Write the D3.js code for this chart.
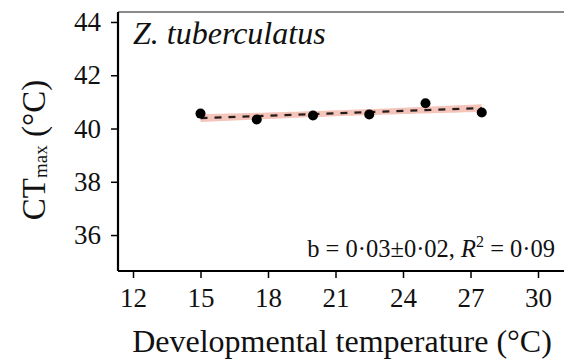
<!DOCTYPE html>
<html>
<head>
<meta charset="utf-8">
<script src="https://cdn.jsdelivr.net/npm/d3@7"></script>
<style>
  html, body { margin: 0; padding: 0; background: #fff; }
  svg { display: block; }
  svg text { font-family: "Liberation Serif", "DejaVu Serif", serif; }
</style>
</head>
<body>
<svg id="chart" width="564" height="361"></svg>
<script>
// Developmental temperature (°C) and mean CTmax (°C)
const temps = [15, 17.5, 20, 22.5, 25, 27.5];
const ctmax = [40.56, 40.34, 40.49, 40.53, 40.95, 40.60];
const ctmaxSE = [0.07, 0.07, 0.07, 0.06, 0.07, 0.07];
const xTicks = [12, 15, 18, 21, 24, 27, 30];
const yTicks = [36, 38, 40, 42, 44];
const slope = 0.03;      // b
const slopeSE = 0.02;
const r2 = 0.09;
const species = "Z. tuberculatus";

const SERIF = '"Liberation Serif", "DejaVu Serif", serif';
const svg = d3.select("#chart");
const plotLeft = 118, plotRight = 565, plotTop = 12, plotBottom = 271;

const x = d3.scaleLinear().domain([11.333, 31.2]).range([plotLeft, plotRight]);
const y = d3.scaleLinear().domain([34.65, 44.375]).range([plotBottom, plotTop]);

// Fitted line through the mean of the data with slope b, with a narrow confidence ribbon
const mx = d3.mean(temps), my = d3.mean(ctmax);
const fit = t => my + slope * (t - mx);
const xs = d3.range(15, 27.5001, 0.25);
const sxx = d3.sum(temps, t => (t - mx) ** 2);
const band = xs.map(t => {
  const half = 0.07 + 0.1 * Math.sqrt(1 / temps.length + (t - mx) ** 2 / sxx);
  return { t, lo: fit(t) - half, hi: fit(t) + half };
});

svg.append("path")
  .datum(band)
  .attr("fill", "#f5c4ba")
  .attr("d", d3.area().x(d => x(d.t)).y0(d => y(d.lo)).y1(d => y(d.hi)));

// Error bars and points
const g = svg.append("g");
g.selectAll("line.err").data(temps).join("line")
  .attr("class", "err")
  .attr("x1", d => x(d)).attr("x2", d => x(d))
  .attr("y1", (d, i) => y(ctmax[i] - ctmaxSE[i]))
  .attr("y2", (d, i) => y(ctmax[i] + ctmaxSE[i]))
  .attr("stroke", "#000").attr("stroke-width", 1.5);
g.selectAll("circle").data(temps).join("circle")
  .attr("cx", d => x(d))
  .attr("cy", (d, i) => y(ctmax[i]))
  .attr("r", 5)
  .attr("fill", "#000");

svg.append("path")
  .datum([15, 27.5])
  .attr("fill", "none")
  .attr("stroke", "#000")
  .attr("stroke-width", 2.4)
  .attr("stroke-dasharray", "7,7")
  .attr("opacity", 0.85)
  .attr("d", d3.line().x(d => x(d)).y(d => y(fit(d))));

// Frame
svg.append("line")
  .attr("x1", plotLeft).attr("x2", 564).attr("y1", plotTop).attr("y2", plotTop)
  .attr("stroke", "#8a8a8a").attr("stroke-width", 2);

// Axes
const yAxis = svg.append("g")
  .attr("transform", `translate(${plotLeft},0)`)
  .call(d3.axisLeft(y).tickValues(yTicks).tickSize(7).tickPadding(10).tickFormat(d3.format("d")));
const xAxis = svg.append("g")
  .attr("transform", `translate(0,${plotBottom})`)
  .call(d3.axisBottom(x).tickValues(xTicks).tickSize(7).tickPadding(10).tickFormat(d3.format("d")));

[yAxis, xAxis].forEach(ax => {
  ax.attr("font-family", SERIF).attr("font-size", 27);
  ax.select(".domain").attr("stroke", "#000").attr("stroke-width", 2.2);
  ax.selectAll(".tick line").attr("stroke", "#000").attr("stroke-width", 1.5);
  ax.selectAll(".tick text").attr("fill", "#111");
});
yAxis.select(".domain").attr("d", `M0,${plotTop}V${plotBottom}`);
xAxis.select(".domain").attr("d", `M${plotLeft},0H564`);

// Species label
svg.append("text")
  .attr("x", 133).attr("y", 44)
  .attr("font-family", SERIF)
  .attr("font-size", 32)
  .attr("font-style", "italic")
  .attr("fill", "#111")
  .text(species);

// Slope annotation
const fmt = v => d3.format(".2f")(v).replace(".", "·");
const ann = svg.append("text")
  .attr("x", 555).attr("y", 257)
  .attr("text-anchor", "end")
  .attr("font-family", SERIF)
  .attr("font-size", 24.5)
  .attr("fill", "#111");
ann.append("tspan").text(`b = ${fmt(slope)}±${fmt(slopeSE)}, `);
ann.append("tspan").attr("font-style", "italic").text("R");
ann.append("tspan").attr("font-size", 16).attr("dy", -10).text("2");
ann.append("tspan").attr("dy", 10).text(` = ${fmt(r2)}`);

// Axis titles
svg.append("text")
  .attr("x", 342).attr("y", 352)
  .attr("text-anchor", "middle")
  .attr("font-family", SERIF)
  .attr("font-size", 32)
  .attr("fill", "#111")
  .text("Developmental temperature (°C)");

const yt = svg.append("text")
  .attr("transform", "translate(45,150) rotate(-90)")
  .attr("text-anchor", "middle")
  .attr("font-family", SERIF)
  .attr("font-size", 33)
  .attr("fill", "#111");
yt.append("tspan").text("CT");
yt.append("tspan").attr("font-size", 19).attr("dy", 2).text("max");
yt.append("tspan").attr("dy", -2).text(" (°C)");
</script>
</body>
</html>
